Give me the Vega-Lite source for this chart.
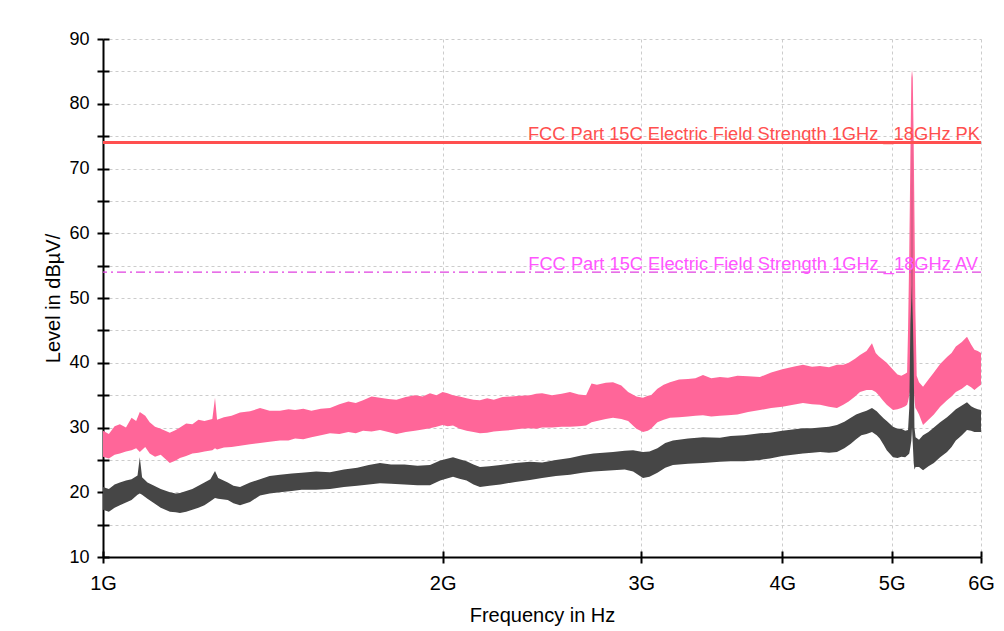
{
  "$schema": "https://vega.github.io/schema/vega-lite/v6.json",
  "width": 878,
  "height": 518,
  "autosize": "none",
  "padding": {"left": 103, "top": 39, "right": 23, "bottom": 74},
  "background": "white",
  "config": {"font": "Liberation Sans", "view": {"stroke": null}},
  "datasets": {
    "pk": [
      {"f":1.000,"lo":25.5,"hi":29.5},{"f":1.012,"lo":25.2,"hi":29.0},{"f":1.024,"lo":25.8,"hi":30.2},{"f":1.035,"lo":26.0,"hi":30.5},
      {"f":1.048,"lo":26.3,"hi":30.0},{"f":1.060,"lo":26.5,"hi":31.5},{"f":1.070,"lo":26.8,"hi":31.0},{"f":1.078,"lo":26.2,"hi":32.4},
      {"f":1.090,"lo":27.0,"hi":31.8},{"f":1.100,"lo":26.0,"hi":30.8},{"f":1.112,"lo":25.5,"hi":30.1},{"f":1.125,"lo":25.8,"hi":29.8},
      {"f":1.146,"lo":24.5,"hi":29.2},{"f":1.160,"lo":24.9,"hi":29.6},{"f":1.170,"lo":25.3,"hi":30.0},{"f":1.185,"lo":25.6,"hi":30.6},
      {"f":1.200,"lo":26.0,"hi":30.5},{"f":1.215,"lo":26.1,"hi":31.2},{"f":1.230,"lo":26.3,"hi":31.0},{"f":1.250,"lo":26.5,"hi":31.3},
      {"f":1.2568,"lo":26.8,"hi":34.6},{"f":1.262,"lo":26.6,"hi":31.2},{"f":1.280,"lo":26.9,"hi":31.6},{"f":1.300,"lo":27.0,"hi":31.8},
      {"f":1.3226,"lo":27.2,"hi":32.3},{"f":1.350,"lo":27.4,"hi":32.5},{"f":1.3777,"lo":27.6,"hi":33.0},{"f":1.405,"lo":27.8,"hi":32.6},
      {"f":1.435,"lo":28.0,"hi":32.6},{"f":1.460,"lo":28.0,"hi":32.8},{"f":1.480,"lo":28.3,"hi":32.7},{"f":1.505,"lo":28.2,"hi":32.9},
      {"f":1.530,"lo":28.5,"hi":32.6},{"f":1.560,"lo":28.8,"hi":32.9},{"f":1.5892,"lo":29.1,"hi":33.0},{"f":1.620,"lo":29.0,"hi":33.6},
      {"f":1.650,"lo":29.3,"hi":34.0},{"f":1.675,"lo":29.1,"hi":33.8},{"f":1.700,"lo":29.5,"hi":34.2},{"f":1.730,"lo":29.4,"hi":34.8},
      {"f":1.7599,"lo":29.6,"hi":34.6},{"f":1.790,"lo":29.3,"hi":34.4},{"f":1.820,"lo":29.0,"hi":34.3},{"f":1.855,"lo":29.3,"hi":34.7},
      {"f":1.890,"lo":29.5,"hi":35.0},{"f":1.920,"lo":29.7,"hi":34.8},{"f":1.949,"lo":29.9,"hi":35.3},{"f":1.975,"lo":30.1,"hi":35.0},
      {"f":2.000,"lo":30.4,"hi":35.5},{"f":2.020,"lo":30.2,"hi":35.3},{"f":2.0427,"lo":30.3,"hi":35.0},{"f":2.070,"lo":29.8,"hi":34.8},
      {"f":2.100,"lo":29.5,"hi":34.5},{"f":2.130,"lo":29.3,"hi":34.3},{"f":2.1583,"lo":29.1,"hi":34.2},{"f":2.190,"lo":29.2,"hi":34.5},
      {"f":2.220,"lo":29.4,"hi":34.3},{"f":2.260,"lo":29.5,"hi":34.7},{"f":2.300,"lo":29.6,"hi":34.8},{"f":2.345,"lo":29.8,"hi":34.9},
      {"f":2.3902,"lo":29.9,"hi":35.0},{"f":2.420,"lo":29.8,"hi":35.2},{"f":2.450,"lo":30.0,"hi":35.3},{"f":2.500,"lo":30.0,"hi":35.0},
      {"f":2.550,"lo":30.1,"hi":35.2},{"f":2.5935,"lo":30.1,"hi":35.5},{"f":2.640,"lo":30.2,"hi":35.1},{"f":2.680,"lo":30.3,"hi":35.0},
      {"f":2.710,"lo":30.8,"hi":36.8},{"f":2.740,"lo":31.0,"hi":36.6},{"f":2.790,"lo":31.3,"hi":36.9},{"f":2.8314,"lo":31.5,"hi":37.0},
      {"f":2.880,"lo":31.3,"hi":36.5},{"f":2.920,"lo":31.0,"hi":35.5},{"f":2.970,"lo":29.8,"hi":34.8},{"f":3.0102,"lo":29.3,"hi":34.6},
      {"f":3.040,"lo":29.5,"hi":34.9},{"f":3.060,"lo":29.8,"hi":35.0},{"f":3.100,"lo":30.8,"hi":36.0},{"f":3.140,"lo":31.2,"hi":36.6},
      {"f":3.1806,"lo":31.5,"hi":37.0},{"f":3.240,"lo":31.6,"hi":37.4},{"f":3.300,"lo":31.7,"hi":37.5},{"f":3.350,"lo":31.8,"hi":37.6},
      {"f":3.4022,"lo":31.9,"hi":38.1},{"f":3.460,"lo":31.7,"hi":37.6},{"f":3.5221,"lo":31.8,"hi":37.8},{"f":3.580,"lo":31.9,"hi":37.7},
      {"f":3.650,"lo":32.0,"hi":38.0},{"f":3.730,"lo":32.4,"hi":37.9},{"f":3.8217,"lo":32.7,"hi":37.8},{"f":3.910,"lo":33.0,"hi":38.5},
      {"f":4.000,"lo":33.2,"hi":39.0},{"f":4.090,"lo":33.5,"hi":39.4},{"f":4.1722,"lo":33.8,"hi":39.7},{"f":4.250,"lo":33.6,"hi":39.4},
      {"f":4.320,"lo":33.5,"hi":39.5},{"f":4.400,"lo":33.2,"hi":39.3},{"f":4.472,"lo":33.0,"hi":39.7},{"f":4.530,"lo":33.5,"hi":39.7},
      {"f":4.580,"lo":34.0,"hi":40.0},{"f":4.640,"lo":34.8,"hi":40.6},{"f":4.6871,"lo":35.5,"hi":41.2},{"f":4.750,"lo":35.8,"hi":41.8},
      {"f":4.8033,"lo":35.8,"hi":43.0},{"f":4.840,"lo":35.5,"hi":41.5},{"f":4.870,"lo":35.0,"hi":41.0},{"f":4.910,"lo":34.2,"hi":40.5},
      {"f":4.950,"lo":33.5,"hi":40.0},{"f":5.0139,"lo":32.7,"hi":38.9},{"f":5.060,"lo":32.8,"hi":38.2},{"f":5.100,"lo":33.0,"hi":38.0},
      {"f":5.140,"lo":33.3,"hi":38.3},{"f":5.160,"lo":33.5,"hi":38.5},{"f":5.170,"lo":34.0,"hi":45.0},{"f":5.183,"lo":35.0,"hi":57.0},
      {"f":5.198,"lo":36.0,"hi":76.0},{"f":5.205,"lo":38.0,"hi":84.0},{"f":5.212,"lo":38.0,"hi":85.2},{"f":5.220,"lo":38.0,"hi":84.0},
      {"f":5.230,"lo":36.0,"hi":74.0},{"f":5.240,"lo":34.0,"hi":60.0},{"f":5.248,"lo":33.0,"hi":48.0},{"f":5.262,"lo":32.7,"hi":38.0},
      {"f":5.287,"lo":32.0,"hi":37.0},
      {"f":5.3306,"lo":30.4,"hi":36.3},{"f":5.390,"lo":31.2,"hi":37.4},{"f":5.450,"lo":32.0,"hi":38.5},{"f":5.520,"lo":33.2,"hi":39.8},
      {"f":5.598,"lo":34.2,"hi":40.9},{"f":5.650,"lo":34.8,"hi":41.5},{"f":5.700,"lo":35.5,"hi":42.5},{"f":5.770,"lo":36.0,"hi":43.2},
      {"f":5.831,"lo":36.6,"hi":44.0},{"f":5.880,"lo":36.2,"hi":42.8},{"f":5.920,"lo":35.8,"hi":42.0},{"f":5.960,"lo":36.2,"hi":41.8},
      {"f":6.000,"lo":36.6,"hi":41.5}
    ],
    "av": [
      {"f":1.000,"lo":17.3,"hi":20.8},{"f":1.012,"lo":17.0,"hi":20.5},{"f":1.024,"lo":17.6,"hi":21.2},{"f":1.035,"lo":18.0,"hi":21.5},
      {"f":1.048,"lo":18.4,"hi":21.8},{"f":1.060,"lo":18.8,"hi":22.0},{"f":1.073,"lo":19.6,"hi":22.6},{"f":1.078,"lo":19.8,"hi":25.4},
      {"f":1.083,"lo":19.6,"hi":22.3},{"f":1.095,"lo":19.0,"hi":21.5},{"f":1.110,"lo":18.3,"hi":21.0},{"f":1.125,"lo":17.6,"hi":20.5},
      {"f":1.1465,"lo":17.0,"hi":20.0},{"f":1.160,"lo":16.9,"hi":19.8},{"f":1.170,"lo":16.8,"hi":19.9},{"f":1.185,"lo":17.0,"hi":20.2},
      {"f":1.200,"lo":17.3,"hi":20.5},{"f":1.215,"lo":17.6,"hi":21.0},{"f":1.230,"lo":18.0,"hi":21.5},{"f":1.245,"lo":18.6,"hi":22.0},
      {"f":1.2568,"lo":19.1,"hi":23.3},{"f":1.265,"lo":19.0,"hi":22.2},{"f":1.290,"lo":18.8,"hi":21.5},{"f":1.305,"lo":18.3,"hi":21.0},
      {"f":1.3226,"lo":18.0,"hi":20.8},{"f":1.350,"lo":18.5,"hi":21.5},{"f":1.3777,"lo":19.5,"hi":22.0},{"f":1.405,"lo":19.8,"hi":22.5},
      {"f":1.435,"lo":20.0,"hi":22.7},{"f":1.470,"lo":20.2,"hi":22.9},{"f":1.500,"lo":20.4,"hi":23.0},{"f":1.545,"lo":20.4,"hi":23.2},
      {"f":1.5892,"lo":20.5,"hi":23.1},{"f":1.635,"lo":20.8,"hi":23.5},{"f":1.680,"lo":21.0,"hi":23.8},{"f":1.720,"lo":21.2,"hi":24.2},
      {"f":1.7599,"lo":21.4,"hi":24.5},{"f":1.800,"lo":21.3,"hi":24.3},{"f":1.850,"lo":21.2,"hi":24.3},{"f":1.900,"lo":21.1,"hi":24.1},
      {"f":1.949,"lo":21.1,"hi":24.2},{"f":1.990,"lo":21.8,"hi":24.9},{"f":2.0427,"lo":22.4,"hi":25.4},{"f":2.070,"lo":22.1,"hi":25.1},
      {"f":2.100,"lo":21.8,"hi":24.8},{"f":2.130,"lo":21.2,"hi":24.3},{"f":2.1583,"lo":20.8,"hi":23.9},{"f":2.200,"lo":21.0,"hi":24.0},
      {"f":2.250,"lo":21.2,"hi":24.2},{"f":2.320,"lo":21.6,"hi":24.5},{"f":2.3902,"lo":21.9,"hi":24.7},{"f":2.450,"lo":22.2,"hi":24.6},
      {"f":2.520,"lo":22.5,"hi":25.0},{"f":2.5935,"lo":22.7,"hi":25.3},{"f":2.660,"lo":23.0,"hi":25.7},{"f":2.720,"lo":23.2,"hi":26.0},
      {"f":2.8314,"lo":23.4,"hi":26.2},{"f":2.900,"lo":23.5,"hi":26.4},{"f":2.950,"lo":23.2,"hi":26.5},{"f":3.0102,"lo":22.2,"hi":26.2},
      {"f":3.050,"lo":22.4,"hi":26.3},{"f":3.100,"lo":23.0,"hi":26.8},{"f":3.150,"lo":23.8,"hi":27.6},{"f":3.200,"lo":24.2,"hi":28.0},
      {"f":3.300,"lo":24.4,"hi":28.3},{"f":3.4022,"lo":24.5,"hi":28.5},{"f":3.5221,"lo":24.7,"hi":28.4},{"f":3.600,"lo":24.8,"hi":28.7},
      {"f":3.700,"lo":24.8,"hi":28.8},{"f":3.8217,"lo":25.0,"hi":29.1},{"f":3.900,"lo":25.2,"hi":29.2},{"f":4.000,"lo":25.6,"hi":29.5},
      {"f":4.1722,"lo":26.0,"hi":29.9},{"f":4.250,"lo":26.1,"hi":29.9},{"f":4.320,"lo":26.2,"hi":30.0},{"f":4.400,"lo":26.1,"hi":30.1},
      {"f":4.472,"lo":26.2,"hi":30.4},{"f":4.540,"lo":26.8,"hi":30.9},{"f":4.600,"lo":27.5,"hi":31.5},{"f":4.650,"lo":28.2,"hi":32.0},
      {"f":4.700,"lo":28.8,"hi":32.3},{"f":4.750,"lo":29.0,"hi":32.6},{"f":4.8033,"lo":29.3,"hi":33.0},{"f":4.850,"lo":28.8,"hi":32.5},
      {"f":4.880,"lo":28.3,"hi":32.0},{"f":4.920,"lo":27.3,"hi":31.4},{"f":4.950,"lo":26.5,"hi":31.0},{"f":5.0139,"lo":25.4,"hi":30.1},
      {"f":5.060,"lo":25.3,"hi":29.8},{"f":5.100,"lo":25.5,"hi":29.8},{"f":5.140,"lo":25.4,"hi":29.5},{"f":5.170,"lo":25.8,"hi":29.6},
      {"f":5.183,"lo":26.0,"hi":33.0},{"f":5.195,"lo":27.0,"hi":46.0},{"f":5.205,"lo":28.0,"hi":50.0},{"f":5.209,"lo":29.0,"hi":52.0},
      {"f":5.212,"lo":30.0,"hi":78.0},{"f":5.215,"lo":29.0,"hi":50.0},{"f":5.222,"lo":27.0,"hi":46.0},{"f":5.230,"lo":24.5,"hi":40.0},
      {"f":5.238,"lo":23.5,"hi":30.0},{"f":5.250,"lo":23.9,"hi":28.5},
      {"f":5.287,"lo":23.9,"hi":28.1},{"f":5.3306,"lo":23.4,"hi":28.8},{"f":5.390,"lo":24.0,"hi":29.3},{"f":5.450,"lo":24.5,"hi":30.0},
      {"f":5.520,"lo":25.4,"hi":30.8},{"f":5.598,"lo":26.2,"hi":31.6},{"f":5.650,"lo":27.0,"hi":32.2},{"f":5.700,"lo":28.0,"hi":32.8},
      {"f":5.770,"lo":28.8,"hi":33.4},{"f":5.831,"lo":29.6,"hi":33.9},{"f":5.880,"lo":29.5,"hi":33.3},{"f":5.920,"lo":29.3,"hi":33.0},
      {"f":5.960,"lo":29.3,"hi":32.8},{"f":6.000,"lo":29.3,"hi":32.7}
    ],
    "limits": [
      {"f": 6, "v": 74, "name": "PK", "t": "FCC Part 15C Electric Field Strength 1GHz _18GHz PK"},
      {"f": 6, "v": 54, "name": "AV", "t": "FCC Part 15C Electric Field Strength 1GHz _18GHz AV"}
    ]
  },
  "resolve": {"axis": {"x": "independent", "y": "independent"}},
  "layer": [
    {
      "data": {"name": "pk"},
      "mark": {"type": "area", "color": "#FF6699", "opacity": 1},
      "encoding": {
        "x": {"field": "f", "type": "quantitative",
              "scale": {"type": "log", "domain": [1, 6], "nice": false},
              "axis": {"values": [1, 2, 3, 4, 5, 6], "labelExpr": "datum.value + 'G'", "title": "Frequency in Hz",
                       "grid": true, "gridDash": [3, 3], "gridColor": "#cccccc", "gridWidth": 1,
                       "tickSize": 6, "tickWidth": 2, "tickColor": "black", "domainColor": "black", "domainWidth": 2,
                       "labelFontSize": 20, "labelColor": "black", "labelPadding": 10, "labelFlush": false, "labelOverlap": false,
                       "titleFontSize": 20, "titleFontWeight": "normal", "titleColor": "black", "titlePadding": 12}},
        "y": {"field": "lo", "type": "quantitative",
              "scale": {"domain": [10, 90], "nice": false, "zero": false},
              "axis": {"values": [10, 15, 20, 25, 30, 35, 40, 45, 50, 55, 60, 65, 70, 75, 80, 85, 90],
                       "labelExpr": "datum.value % 10 == 0 ? datum.label : ''", "title": "Level in dBµV/",
                       "grid": true, "gridDash": [3, 3], "gridColor": "#cccccc", "gridWidth": 1,
                       "tickSize": 6, "tickWidth": 2, "tickColor": "black", "domainColor": "black", "domainWidth": 2,
                       "labelFontSize": 18, "labelColor": "black", "labelPadding": 8, "labelOverlap": false,
                       "titleFontSize": 20, "titleFontWeight": "normal", "titleColor": "black", "titlePadding": 5}},
        "y2": {"field": "hi"}
      }
    },
    {
      "data": {"name": "av"},
      "mark": {"type": "area", "color": "#464646", "opacity": 1},
      "encoding": {
        "x": {"field": "f", "type": "quantitative", "scale": {"type": "log", "domain": [1, 6], "nice": false}, "axis": null},
        "y": {"field": "lo", "type": "quantitative", "axis": null},
        "y2": {"field": "hi"}
      }
    },
    {
      "data": {"name": "limits"},
      "transform": [{"filter": "datum.name == 'PK'"}],
      "mark": {"type": "rule", "color": "#FF4F4F", "strokeWidth": 3},
      "encoding": {
        "y": {"field": "v", "type": "quantitative",
              "axis": {"orient": "right", "offset": -878, "values": [10, 15, 20, 25, 30, 35, 40, 45, 50, 55, 60, 65, 70, 75, 80, 85, 90],
                       "labels": false, "grid": false, "domain": false, "title": null,
                       "tickSize": 6, "tickWidth": 2, "tickColor": "black"}}
      }
    },
    {
      "data": {"name": "limits"},
      "transform": [{"filter": "datum.name == 'AV'"}],
      "mark": {"type": "rule", "color": "#E040E0", "strokeWidth": 1.2, "strokeDash": [9, 4, 2, 4]},
      "encoding": {
        "y": {"field": "v", "type": "quantitative", "axis": null}
      }
    },
    {
      "data": {"name": "limits"},
      "transform": [{"filter": "datum.name == 'PK'"}],
      "mark": {"type": "text", "color": "#FF4F4F", "align": "right", "baseline": "alphabetic", "dy": -3, "dx": -1, "fontSize": 18.3},
      "encoding": {
        "x": {"field": "f", "type": "quantitative", "scale": {"type": "log", "domain": [1, 6], "nice": false},
              "axis": {"orient": "top", "offset": -518, "values": [1, 2, 3, 4, 5, 6], "labels": false, "grid": false, "domain": false,
                       "title": null, "tickSize": 6, "tickWidth": 2, "tickColor": "black"}},
        "y": {"field": "v", "type": "quantitative", "axis": null},
        "text": {"field": "t"}
      }
    },
    {
      "data": {"name": "limits"},
      "transform": [{"filter": "datum.name == 'AV'"}],
      "mark": {"type": "text", "color": "#FF55FF", "align": "right", "baseline": "alphabetic", "dy": -2, "dx": -3, "fontSize": 18.3},
      "encoding": {
        "x": {"field": "f", "type": "quantitative", "scale": {"type": "log", "domain": [1, 6], "nice": false}, "axis": null},
        "y": {"field": "v", "type": "quantitative", "axis": null},
        "text": {"field": "t"}
      }
    }
  ]
}
